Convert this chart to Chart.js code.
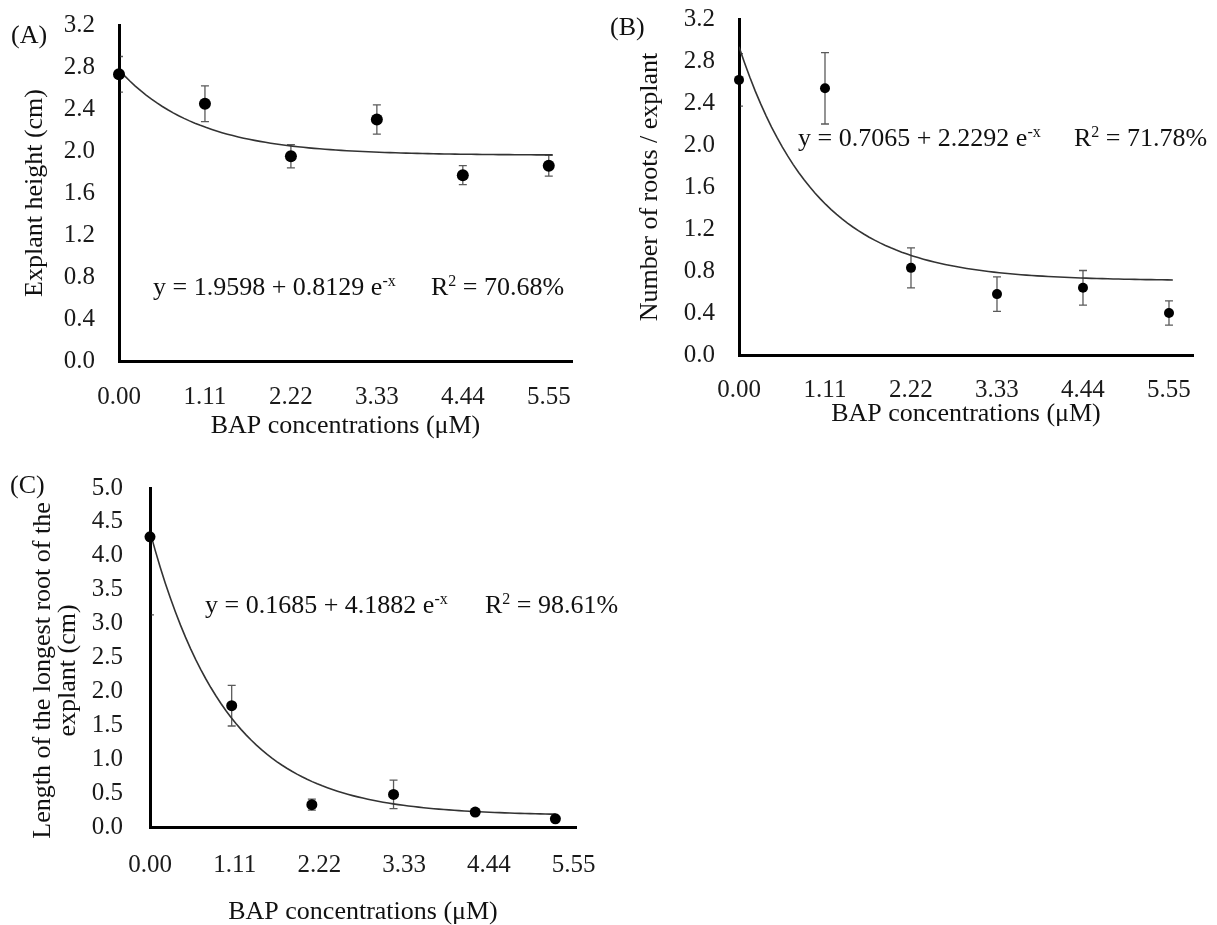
<!DOCTYPE html>
<html>
<head>
<meta charset="utf-8">
<script src="https://cdn.jsdelivr.net/npm/chart.js@4.4.1/dist/chart.umd.min.js"></script>
<style>
    body { margin: 0; background: #fff; width: 1217px; height: 925px; position: relative; overflow: hidden; }
    canvas { position: absolute; }
    .note { position: absolute; font-family: "Liberation Serif", "Times New Roman", serif; font-size: 26px; color: #111; line-height: 1; white-space: nowrap; transform: translateY(-50%); }
    .note sup { font-size: 16px; vertical-align: 9px; line-height: 0; }
</style>
</head>
<body>
<canvas id="chart-a" width="600" height="450" style="left:0;top:0"></canvas>
<canvas id="chart-b" width="617" height="440" style="left:600px;top:0"></canvas>
<canvas id="chart-c" width="640" height="480" style="left:0;top:460px"></canvas>

<div class="note" style="left:11px;top:35px">(A)</div>
<div class="note" style="left:610px;top:27px">(B)</div>
<div class="note" style="left:10px;top:485px">(C)</div>

<div class="note" style="left:153px;top:287px">y = 1.9598 + 0.8129 e<sup>-x</sup></div>
<div class="note" style="left:431px;top:287px">R<sup>2</sup> = 70.68%</div>
<div class="note" style="left:798px;top:138px">y = 0.7065 + 2.2292 e<sup>-x</sup></div>
<div class="note" style="left:1074px;top:138px">R<sup>2</sup> = 71.78%</div>
<div class="note" style="left:205px;top:605px">y = 0.1685 + 4.1882 e<sup>-x</sup></div>
<div class="note" style="left:485px;top:605px">R<sup>2</sup> = 98.61%</div>

<script>
// --- DATA ---
const xTickValues = [0, 1.11, 2.22, 3.33, 4.44, 5.55];
const yTicksAB = [0, 0.4, 0.8, 1.2, 1.6, 2.0, 2.4, 2.8, 3.2];
const yTicksC = [0, 0.5, 1.0, 1.5, 2.0, 2.5, 3.0, 3.5, 4.0, 4.5, 5.0];

// (A) explant height
const concA = [0, 1.11, 2.22, 3.33, 4.44, 5.55];
const heightMean = [2.73, 2.45, 1.95, 2.30, 1.77, 1.86];
const heightErr = [0.17, 0.17, 0.11, 0.14, 0.09, 0.10];
const fitA = [1.9598, 0.8129];

// (B) number of roots
const concB = [0, 1.11, 2.22, 3.33, 4.44, 5.55];
const rootsMean = [2.62, 2.54, 0.83, 0.58, 0.64, 0.40];
const rootsErr = [0.25, 0.34, 0.19, 0.165, 0.165, 0.115];
const fitB = [0.7065, 2.2292];

// (C) longest root length (points sit a bit left of the tick labels in the original)
const concC = [0, 1.07, 2.12, 3.19, 4.26, 5.31];
const lengthMean = [4.28, 1.79, 0.33, 0.48, 0.22, 0.12];
const lengthErr = [1.15, 0.30, 0.08, 0.21, 0.03, 0.03];
const fitC = [0.1685, 4.1882];

const FONT = '"Liberation Serif", "Times New Roman", serif';

// fitted model y = a + b e^-x, drawn from the printed equation
function fitLine(coef, xEnd) {
    const pts = [];
    const n = 80;
    for (let i = 0; i <= n; i++) {
        const x = xEnd * i / n;
        pts.push({ x, y: coef[0] + coef[1] * Math.exp(-x) });
    }
    return pts;
}

// vertical error bars with caps, behind the points
const errorBars = {
    id: 'errorBars',
    beforeDatasetsDraw(chart, args, opts) {
        const { ctx, chartArea, scales } = chart;
        const meta = chart.getDatasetMeta(0);
        const values = chart.data.datasets[0].data;
        ctx.save();
        ctx.beginPath();
        ctx.rect(chartArea.left + 1.6, chartArea.top, chartArea.right - chartArea.left, chartArea.bottom - chartArea.top);
        ctx.clip();
        ctx.strokeStyle = '#5a5a5a';
        ctx.lineWidth = 1.3;
        meta.data.forEach((pt, i) => {
            const v = values[i].y;
            const yTop = scales.y.getPixelForValue(v + opts.errors[i]);
            const yBot = scales.y.getPixelForValue(v - opts.errors[i]);
            ctx.beginPath();
            ctx.moveTo(pt.x, yTop); ctx.lineTo(pt.x, yBot);
            ctx.moveTo(pt.x - 4, yTop); ctx.lineTo(pt.x + 4, yTop);
            ctx.moveTo(pt.x - 4, yBot); ctx.lineTo(pt.x + 4, yBot);
            ctx.stroke();
        });
        ctx.restore();
    }
};

function makePanel(p) {
    const points = p.x.map((x, i) => ({ x, y: p.y[i] }));
    new Chart(document.getElementById(p.id), {
        type: 'scatter',
        data: {
            datasets: [
                { data: points, pointRadius: p.radius, pointBackgroundColor: '#000', pointBorderWidth: 0, clip: false, order: 0 },
                { type: 'line', data: fitLine(p.fit, p.fitEnd), borderColor: '#333', borderWidth: 1.6, pointRadius: 0, fill: false, tension: 0, order: 1 }
            ]
        },
        options: {
            responsive: false,
            animation: false,
            events: [],
            layout: { padding: { top: p.padTop, right: p.padRight, bottom: 0, left: 0 } },
            plugins: {
                legend: { display: false },
                tooltip: { enabled: false },
                errorBars: { errors: p.err }
            },
            scales: {
                x: {
                    type: 'linear', min: 0, max: p.xMax,
                    grid: { display: false, drawTicks: false, tickLength: 0 },
                    border: { color: '#000', width: 3 },
                    ticks: { font: { family: FONT, size: 25 }, color: '#1a1a1a', padding: p.xTickPad, maxRotation: 0, autoSkip: false, callback: v => v.toFixed(2) },
                    title: { display: true, text: 'BAP concentrations (\u03bcM)', font: { family: FONT, size: 26 }, color: '#111', padding: { top: 0, bottom: p.xTitlePad } },
                    afterBuildTicks: s => { s.ticks = xTickValues.map(v => ({ value: v })); },
                    afterFit: s => { s.height = p.xHeight; s.paddingLeft = 0; s.paddingRight = 0; }
                },
                y: {
                    type: 'linear', min: 0, max: p.yTicks[p.yTicks.length - 1],
                    grid: { display: false, drawTicks: false, tickLength: 0 },
                    border: { color: '#000', width: 3 },
                    ticks: { font: { family: FONT, size: 25 }, color: '#1a1a1a', padding: p.yTickPad, autoSkip: false, callback: v => v.toFixed(1) },
                    title: { display: true, text: p.yTitle, font: { family: FONT, size: 26, lineHeight: p.yTitleLh }, color: '#111', padding: { top: p.yTitlePad, bottom: 0 } },
                    afterBuildTicks: s => { s.ticks = p.yTicks.map(v => ({ value: v })); },
                    afterFit: s => { s.width = p.yWidth; s.paddingTop = 0; s.paddingBottom = 0; }
                }
            }
        },
        plugins: [errorBars]
    });
}

makePanel({
    id: 'chart-a', x: concA, y: heightMean, err: heightErr, fit: fitA, fitEnd: 5.6, radius: 6,
    yTicks: yTicksAB, xMax: 5.85, yTitle: 'Explant height (cm)', yTitleLh: 1.2,
    padTop: 25, padRight: 28, yWidth: 119, xHeight: 89,
    xTickPad: 21, yTickPad: 24, yTitlePad: 20, xTitlePad: 8
});

makePanel({
    id: 'chart-b', x: concB, y: rootsMean, err: rootsErr, fit: fitB, fitEnd: 5.6, radius: 5,
    yTicks: yTicksAB, xMax: 5.86, yTitle: 'Number of roots / explant', yTitleLh: 1.2,
    padTop: 19, padRight: 24, yWidth: 139, xHeight: 85,
    xTickPad: 20, yTickPad: 24, yTitlePad: 35, xTitlePad: 10
});

// trailing spaces nudge the rotated two-line title a little lower, as in the original
makePanel({
    id: 'chart-c', x: concC, y: lengthMean, err: lengthErr, fit: fitC, fitEnd: 5.31, radius: 5.5,
    yTicks: yTicksC, xMax: 5.58, yTitle: ['Length of the longest root of the    ', 'explant (cm)    '], yTitleLh: 0.95,
    padTop: 28, padRight: 64, yWidth: 150, xHeight: 113,
    xTickPad: 23, yTickPad: 27, yTitlePad: 31, xTitlePad: 12
});
</script>
</body>
</html>
